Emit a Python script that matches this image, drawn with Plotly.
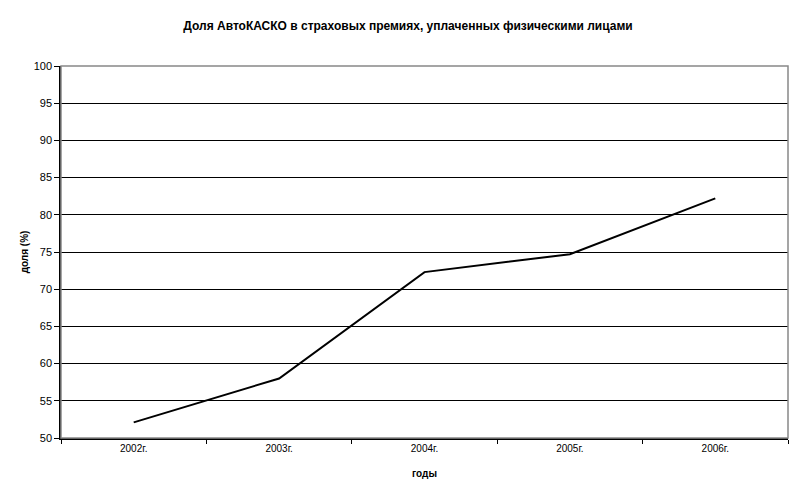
import plotly.graph_objects as go

years = ["2002г.", "2003г.", "2004г.", "2005г.", "2006г."]
share = [52.1, 58.0, 72.3, 74.7, 82.2]

title_text = "Доля АвтоКАСКО в страховых премиях, уплаченных физическими лицами"
font_family = "Liberation Sans, Arial, sans-serif"

fig = go.Figure()
fig.add_trace(go.Scatter(x=years, y=share, mode="lines",
                         line=dict(color="black", width=2), showlegend=False))

# grey frame around the plot area (top/right edges)
fig.add_shape(type="rect", xref="paper", yref="paper", x0=0, x1=1, y0=0, y1=1,
              line=dict(color="#888888", width=1.5), layer="above")

# page body adds an 8px offset, margins compensate for it
fig.update_layout(
    width=800, height=497,
    margin=dict(l=53, r=20, t=58, b=67),
    paper_bgcolor="white", plot_bgcolor="white",
    font=dict(family=font_family, color="black", size=11),
    title=dict(text="<b>" + title_text + "</b>", x=0.5, xanchor="center",
               y=1 - 18 / 497, yanchor="middle", yref="container",
               font=dict(size=12, color="black")),
)
fig.update_xaxes(
    type="category", range=[-0.5, len(years) - 0.5], tickson="boundaries",
    ticks="outside", ticklen=4, automargin=False,
    tickcolor="black", showline=True, linecolor="black", linewidth=1.5,
    showgrid=False, tickfont=dict(size=10),
    title=dict(text="<b>годы</b>", font=dict(size=10), standoff=17),
)
fig.update_yaxes(
    range=[50, 100], dtick=5, ticks="outside", ticklen=5, tickcolor="black",
    showline=True, linecolor="black", linewidth=1.5, automargin=False,
    showgrid=True, gridcolor="black", gridwidth=1, zeroline=False,
    tickfont=dict(size=11),
    title=dict(text="<b>доля (%)</b>", font=dict(size=10), standoff=3),
)

fig.write_html("out.html")
